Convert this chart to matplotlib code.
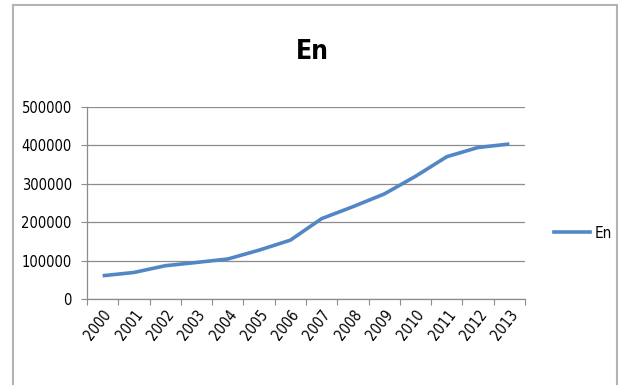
import matplotlib
matplotlib.use("Agg")
import matplotlib.pyplot as plt
from matplotlib.patches import Rectangle
from matplotlib.lines import Line2D
import numpy as np

years = ["2000", "2001", "2002", "2003", "2004", "2005", "2006",
         "2007", "2008", "2009", "2010", "2011", "2012", "2013"]
values = [60500, 69000, 86500, 95000, 104000, 127000, 153000,
          209000, 240000, 273000, 319000, 370000, 394000, 403000]
yticks = [0, 100000, 200000, 300000, 400000, 500000]

plt.rcParams['font.family'] = ['DejaVu Sans']
plt.rcParams['font.stretch'] = 'condensed'

line_color = '#5287c6'

fig = plt.figure(figsize=(6.24, 3.85), dpi=100)
fig.patch.set_facecolor('white')

# outer border
fig.add_artist(Rectangle((13/624, -0.05), (617-13)/624, (385-5)/385 + 0.05,
                         transform=fig.transFigure, fill=False,
                         edgecolor='#b3b3b3', linewidth=1.5))

ax = fig.add_axes([87/624, (385-299)/385, 438/624, (299-106.7)/385])
x = np.arange(len(years))
ax.plot(x, values, color=line_color, linewidth=2.6, solid_capstyle='butt')

ax.set_xlim(-0.5, len(years) - 0.5)
ax.set_ylim(0, 500000)
ax.set_yticks(yticks)
ax.set_yticklabels([str(v) for v in yticks], fontsize=10.5)
ax.yaxis.grid(True, color='#8c8c8c', linewidth=0.9)
ax.set_axisbelow(True)

ax.set_xticks(np.arange(-0.5, len(years), 1.0))
ax.set_xticklabels([])
ax.set_xticks(x, minor=True)
ax.set_xticklabels(years, minor=True, rotation=52, ha='right',
                   rotation_mode='anchor', fontsize=10.5)
ax.tick_params(axis='x', which='major', length=4, color='#8c8c8c', direction='out')
ax.tick_params(axis='x', which='minor', length=0, pad=6)
ax.tick_params(axis='y', length=4, color='#8c8c8c', pad=7)

for s in ['top', 'right']:
    ax.spines[s].set_visible(False)
for s in ['left', 'bottom']:
    ax.spines[s].set_color('#8c8c8c')
    ax.spines[s].set_linewidth(0.9)

fig.text(312/624, 1 - 52/385, "En", fontsize=19, fontweight='bold',
         ha='center', va='center')

fig.legend([Line2D([0], [0], color=line_color, linewidth=2.6)], ["En"],
           loc='center left', bbox_to_anchor=(540/624, 1 - 233/385),
           frameon=False, fontsize=11, handlelength=2.4, handletextpad=0.3)

fig.savefig("out.png", dpi=100, facecolor='white')
